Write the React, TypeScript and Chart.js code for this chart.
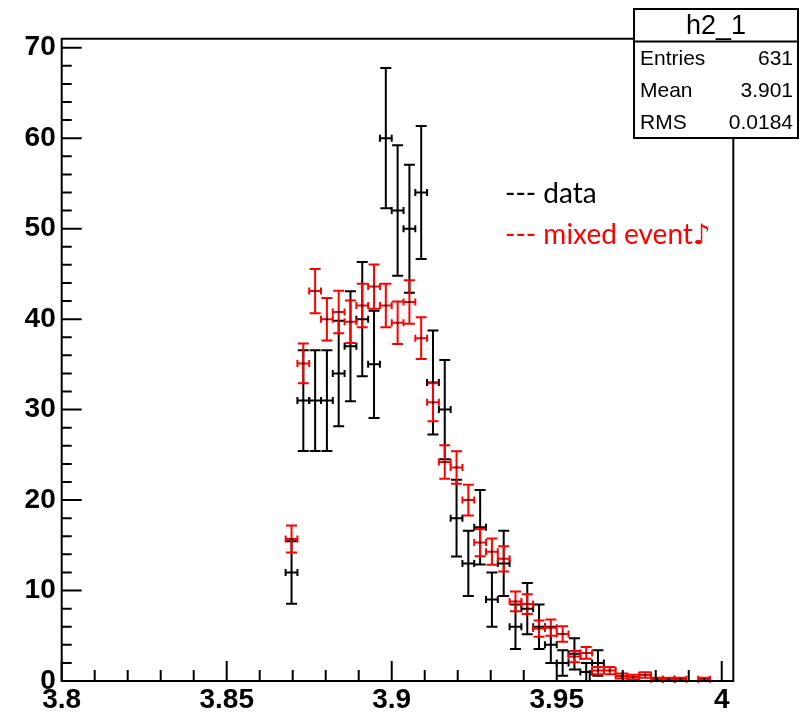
import React, { useEffect, useRef } from "react";
import { Chart, registerables } from "chart.js";

Chart.register(...registerables);

// Bin centres (bin width 0.2/56) for the filled bins
const binCenters = [
  3.86964, 3.87321, 3.87679, 3.88036, 3.88393, 3.8875, 3.89107, 3.89464, 3.89821,
  3.90179, 3.90536, 3.90893, 3.9125, 3.91607, 3.91964, 3.92321, 3.92679, 3.93036,
  3.93393, 3.9375, 3.94107, 3.94464, 3.94821, 3.95179, 3.95536, 3.95893, 3.9625,
  3.96607, 3.96964, 3.97321, 3.97679, 3.98036, 3.98393, 3.9875, 3.99107, 3.99464,
];
const binHalfWidth = 0.0017857;

const dataCounts: (number | null)[] = [
  12, 31, 31, 31, 34, 37, 40, 35, 60, 52, 50, 54, 33, 30, 18, 13, 17, 9, 13, 6, 8, 6, 4, 2, 3, 1, 2,
  null, null, null, null, null, null, null, null, null,
];
const dataErrors: (number | null)[] = [
  3.46, 5.57, 5.57, 5.57, 5.83, 6.08, 6.32, 5.92, 7.75, 7.21, 7.07, 7.35, 5.74, 5.48, 4.24, 3.61,
  4.12, 3.0, 3.61, 2.45, 2.83, 2.45, 2.0, 1.41, 1.73, 1.0, 1.41,
  null, null, null, null, null, null, null, null, null,
];
const mixedValues: (number | null)[] = [
  15.7, 35.1, 43.1, 40.0, 40.8, 39.7, 41.5, 43.6, 41.5, 39.6, 41.9, 37.9, 30.8, 24.2, 23.6, 20.0,
  15.3, 14.3, 13.5, 8.8, 8.5, 5.8, 5.9, 5.2, 2.7, 3.1, 1.15, 1.15, 0.55, 0.45, 0.66, 0.19, 0.19,
  0.19, null, 0.19,
];
const mixedErrors: (number | null)[] = [
  1.5, 2.2, 2.45, 2.35, 2.35, 2.35, 2.4, 2.45, 2.4, 2.35, 2.4, 2.3, 2.1, 1.85, 1.8, 1.7, 1.5, 1.45,
  1.4, 1.1, 1.1, 0.9, 0.9, 0.85, 0.62, 0.65, 0.4, 0.4, 0.28, 0.25, 0.3, 0.16, 0.16, 0.16, null, 0.16,
];

const xMajorTicks = [3.8, 3.85, 3.9, 3.95, 4.0];
const yMajorTicks = [0, 10, 20, 30, 40, 50, 60, 70];
const statsTitle = "h2_1";
const statsRows: [string, string][] = [
  ["Entries", "631"],
  ["Mean", "3.901"],
  ["RMS", "0.0184"],
];
const legendLines: [string, string][] = [
  ["--- data", "#000000"],
  ["--- mixed event\u266A", "#ff0000"],
];

const X_MIN = 3.8;
const X_MAX = 4.0035;
const Y_MIN = 0;
const Y_MAX = 71;

const errorBarPlugin = {
  id: "errorBars",
  afterDatasetsDraw(chart: any) {
    const { ctx } = chart;
    const xs = chart.scales.x;
    const ys = chart.scales.y;
    const sets = [
      { vals: dataCounts, errs: dataErrors, color: "#000000" },
      { vals: mixedValues, errs: mixedErrors, color: "#ff0000" },
    ];
    ctx.save();
    ctx.lineWidth = 2;
    for (const s of sets) {
      ctx.strokeStyle = s.color;
      for (let i = 0; i < binCenters.length; i++) {
        const v = s.vals[i];
        const e = s.errs[i];
        if (v === null || e === null) continue;
        const px = xs.getPixelForValue(binCenters[i]);
        const pl = xs.getPixelForValue(binCenters[i] - binHalfWidth);
        const pr = xs.getPixelForValue(binCenters[i] + binHalfWidth);
        const py = ys.getPixelForValue(v);
        const pTop = ys.getPixelForValue(v + e);
        const pBot = ys.getPixelForValue(Math.max(0, v - e));
        ctx.beginPath();
        ctx.moveTo(px, pTop);
        ctx.lineTo(px, pBot);
        ctx.moveTo(px - 5.5, pTop);
        ctx.lineTo(px + 5.5, pTop);
        ctx.moveTo(px - 5.5, pBot);
        ctx.lineTo(px + 5.5, pBot);
        ctx.moveTo(pl, py);
        ctx.lineTo(pr, py);
        ctx.moveTo(pl, py - 3.5);
        ctx.lineTo(pl, py + 3.5);
        ctx.moveTo(pr, py - 3.5);
        ctx.lineTo(pr, py + 3.5);
        ctx.stroke();
      }
    }
    ctx.fillStyle = "#000000";
    for (const s of sets) {
      for (let i = 0; i < binCenters.length; i++) {
        const v = s.vals[i];
        if (v === null) continue;
        const px = xs.getPixelForValue(binCenters[i]);
        const py = ys.getPixelForValue(v);
        ctx.fillRect(px - 1, py - 1, 2, 2);
      }
    }
    ctx.restore();
  },
};

const framePlugin = {
  id: "rootFrame",
  afterDraw(chart: any) {
    const { ctx, chartArea } = chart;
    const xs = chart.scales.x;
    const ys = chart.scales.y;
    const { left, right, top, bottom } = chartArea;
    ctx.save();
    ctx.strokeStyle = "#000000";
    ctx.lineWidth = 2;
    ctx.beginPath();
    ctx.rect(left, top, right - left, bottom - top);
    ctx.stroke();

    ctx.beginPath();
    for (let k = 0; k <= 20; k++) {
      const val = X_MIN + k * 0.01;
      const px = xs.getPixelForValue(val);
      const len = k % 5 === 0 ? 20 : 11;
      ctx.moveTo(px, bottom);
      ctx.lineTo(px, bottom - len);
    }
    for (let k = 0; k <= 35; k++) {
      const val = k * 2;
      const py = ys.getPixelForValue(val);
      const len = k % 5 === 0 ? 20 : 10;
      ctx.moveTo(left, py);
      ctx.lineTo(left + len, py);
    }
    ctx.stroke();

    ctx.font = '28px "Lato", "DejaVu Sans", sans-serif';
    ctx.textAlign = "left";
    ctx.textBaseline = "alphabetic";
    legendLines.forEach(([txt, col], i) => {
      ctx.fillStyle = col;
      ctx.fillText(txt, 505, 203 + i * 41);
    });

    const bx = 634;
    const by = 9;
    const bw = 164;
    const bh = 129;
    ctx.fillStyle = "#ffffff";
    ctx.fillRect(bx, by, bw, bh);
    ctx.lineWidth = 2;
    ctx.strokeRect(bx, by, bw, bh);
    ctx.beginPath();
    ctx.moveTo(bx, 41.5);
    ctx.lineTo(bx + bw, 41.5);
    ctx.stroke();
    ctx.fillStyle = "#000000";
    ctx.font = '27px "Liberation Sans", Arial, sans-serif';
    ctx.textAlign = "center";
    ctx.fillText(statsTitle, 716, 34);
    ctx.font = '21px "Liberation Sans", Arial, sans-serif';
    statsRows.forEach(([lab, val], i) => {
      const yb = 65 + i * 32;
      ctx.textAlign = "left";
      ctx.fillText(lab, 640, yb);
      ctx.textAlign = "right";
      ctx.fillText(val, 793, yb);
    });
    ctx.restore();
  },
};

export default function App() {
  const canvasRef = useRef<HTMLCanvasElement | null>(null);

  useEffect(() => {
    const canvas = canvasRef.current;
    if (!canvas) return;
    const chart = new Chart(canvas, {
      type: "scatter",
      data: {
        datasets: [
          {
            label: "data",
            data: binCenters
              .map((x, i) => ({ x, y: dataCounts[i] }))
              .filter((p) => p.y !== null) as any,
            pointRadius: 0,
            showLine: false,
            borderColor: "#000000",
            backgroundColor: "#000000",
          },
          {
            label: "mixed event",
            data: binCenters
              .map((x, i) => ({ x, y: mixedValues[i] }))
              .filter((p) => p.y !== null) as any,
            pointRadius: 0,
            showLine: false,
            borderColor: "#ff0000",
            backgroundColor: "#ff0000",
          },
        ],
      },
      options: {
        animation: false,
        responsive: false,
        devicePixelRatio: 1,
        layout: { padding: { top: 38.7, right: 65.7, left: 0, bottom: 0 } },
        plugins: {
          legend: { display: false },
          tooltip: { enabled: false },
          title: { display: false },
        },
        scales: {
          x: {
            type: "linear",
            min: X_MIN,
            max: X_MAX,
            afterBuildTicks: (s: any) => {
              s.ticks = xMajorTicks.map((v) => ({ value: v }));
            },
            afterFit: (s: any) => {
              s.height = 31;
            },
            grid: { display: false, drawTicks: false },
            border: { display: false },
            ticks: {
              padding: 2,
              color: "#000000",
              font: { family: '"Liberation Sans", Arial, sans-serif', size: 28, weight: "bold" },
              callback: (v: any) => String(Number(Number(v).toFixed(2))),
              maxRotation: 0,
              autoSkip: false,
            },
          },
          y: {
            type: "linear",
            min: Y_MIN,
            max: Y_MAX,
            afterBuildTicks: (s: any) => {
              s.ticks = yMajorTicks.map((v) => ({ value: v }));
            },
            afterFit: (s: any) => {
              s.width = 61.7;
            },
            grid: { display: false, drawTicks: false },
            border: { display: false },
            ticks: {
              padding: 6,
              color: "#000000",
              font: { family: '"Liberation Sans", Arial, sans-serif', size: 28, weight: "bold" },
              callback: (v: any) => String(v),
              autoSkip: false,
            },
          },
        },
      },
      plugins: [errorBarPlugin, framePlugin],
    });
    return () => chart.destroy();
  }, []);

  return (
    <div style={{ position: "absolute", left: 0, top: 0, width: 799, height: 712, background: "#ffffff" }}>
      <canvas ref={canvasRef} width={799} height={712} style={{ width: 799, height: 712, display: "block" }} />
    </div>
  );
}
